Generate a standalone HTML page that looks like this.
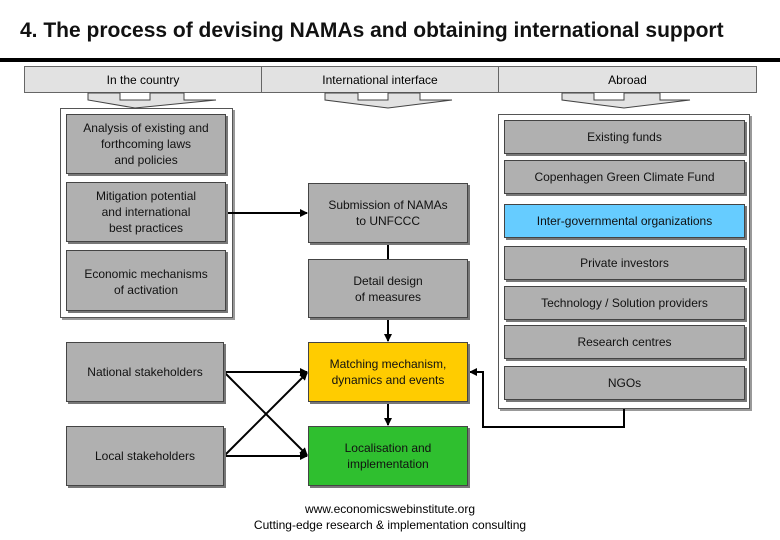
<!DOCTYPE html>
<html><head><style>
body{margin:0;width:780px;height:540px;background:#fff;position:relative;overflow:hidden;font-family:"Liberation Sans",sans-serif;}
.t{position:absolute;left:20px;top:19px;font-family:"Liberation Sans",sans-serif;font-weight:bold;font-size:21px;color:#111;}
.bar{position:absolute;left:0;top:58px;width:780px;height:4px;background:#000;}
.b{position:absolute;box-sizing:border-box;border:1px solid #444;background:#b0b0b0;box-shadow:2px 2px 0 #777;display:flex;align-items:center;justify-content:center;text-align:center;font-size:12px;line-height:16px;color:#111;}
.c{position:absolute;box-sizing:border-box;border:1px solid #555;background:#fff;box-shadow:2px 2px 0 #999;}
.h{position:absolute;top:66px;height:27px;box-sizing:border-box;border:1px solid #666;background:#e2e2e2;font-size:12px;display:flex;align-items:center;justify-content:center;}
.f{position:absolute;width:780px;text-align:center;font-size:12px;left:0;}
svg{position:absolute;left:0;top:0;}
</style></head><body>
<div class="t">4. The process of devising NAMAs and obtaining international support</div>
<div class="bar"></div>
<div class="h" style="left:24px;width:238px">In the country</div>
<div class="h" style="left:261px;width:238px">International interface</div>
<div class="h" style="left:498px;width:259px">Abroad</div>
<div class="c" style="left:60px;top:108px;width:173px;height:210px"></div>
<div class="c" style="left:498px;top:114px;width:252px;height:295px"></div>
<svg width="780" height="540">
<g fill="#e2e2e2" stroke="#444" stroke-width="1">
<polygon points="88,93 120,93 120,100 150,100 150,93 184,93 184,100 216,100 135,108 88,100"/>
<polygon points="325,93 358,93 358,100 388,100 388,93 420,93 420,100 452,100 388,108 325,100"/>
<polygon points="562,93 594,93 594,100 624,100 624,93 660,93 660,100 690,100 624,108 562,100"/>
</g>
<defs><marker id="a" markerWidth="8" markerHeight="8" refX="7" refY="4" orient="auto" markerUnits="userSpaceOnUse"><path d="M0,0 L8,4 L0,8z" fill="#000"/></marker></defs>
<g stroke="#000" stroke-width="2" fill="none">
<line x1="226" y1="213" x2="307" y2="213" marker-end="url(#a)"/>
<line x1="388" y1="243" x2="388" y2="259"/>
<line x1="388" y1="318" x2="388" y2="341" marker-end="url(#a)"/>
<line x1="388" y1="402" x2="388" y2="425" marker-end="url(#a)"/>
<polyline points="624,409 624,427 483,427 483,372 470,372" marker-end="url(#a)"/>
<line x1="224" y1="372" x2="307" y2="372" marker-end="url(#a)"/>
<line x1="224" y1="372" x2="307" y2="455" marker-end="url(#a)"/>
<line x1="224" y1="456" x2="307" y2="456" marker-end="url(#a)"/>
<line x1="224" y1="456" x2="307" y2="373" marker-end="url(#a)"/>
</g>
</svg>
<div class="b" style="left:66px;top:114px;width:160px;height:60px">Analysis of existing and<br>forthcoming laws<br>and policies</div>
<div class="b" style="left:66px;top:182px;width:160px;height:60px">Mitigation potential<br>and international<br>best practices</div>
<div class="b" style="left:66px;top:250px;width:160px;height:61px;align-items:flex-start;padding-top:15px">Economic mechanisms<br>of activation</div>
<div class="b" style="left:308px;top:183px;width:160px;height:60px">Submission of NAMAs<br>to UNFCCC</div>
<div class="b" style="left:308px;top:259px;width:160px;height:59px">Detail design<br>of measures</div>
<div class="b" style="left:308px;top:342px;width:160px;height:60px;background:#ffcc00">Matching mechanism,<br>dynamics and events</div>
<div class="b" style="left:308px;top:426px;width:160px;height:60px;background:#2fbf2f">Localisation and<br>implementation</div>
<div class="b" style="left:66px;top:342px;width:158px;height:60px">National stakeholders</div>
<div class="b" style="left:66px;top:426px;width:158px;height:60px">Local stakeholders</div>
<div class="b" style="left:504px;top:120px;width:241px;height:34px">Existing funds</div>
<div class="b" style="left:504px;top:160px;width:241px;height:34px">Copenhagen Green Climate Fund</div>
<div class="b" style="left:504px;top:204px;width:241px;height:34px;background:#66ccff">Inter-governmental organizations</div>
<div class="b" style="left:504px;top:246px;width:241px;height:34px">Private investors</div>
<div class="b" style="left:504px;top:286px;width:241px;height:34px">Technology / Solution providers</div>
<div class="b" style="left:504px;top:325px;width:241px;height:34px">Research centres</div>
<div class="b" style="left:504px;top:366px;width:241px;height:34px">NGOs</div>
<div class="f" style="top:502px">www.economicswebinstitute.org</div>
<div class="f" style="top:518px">Cutting-edge research &amp; implementation consulting</div>
</body></html>
